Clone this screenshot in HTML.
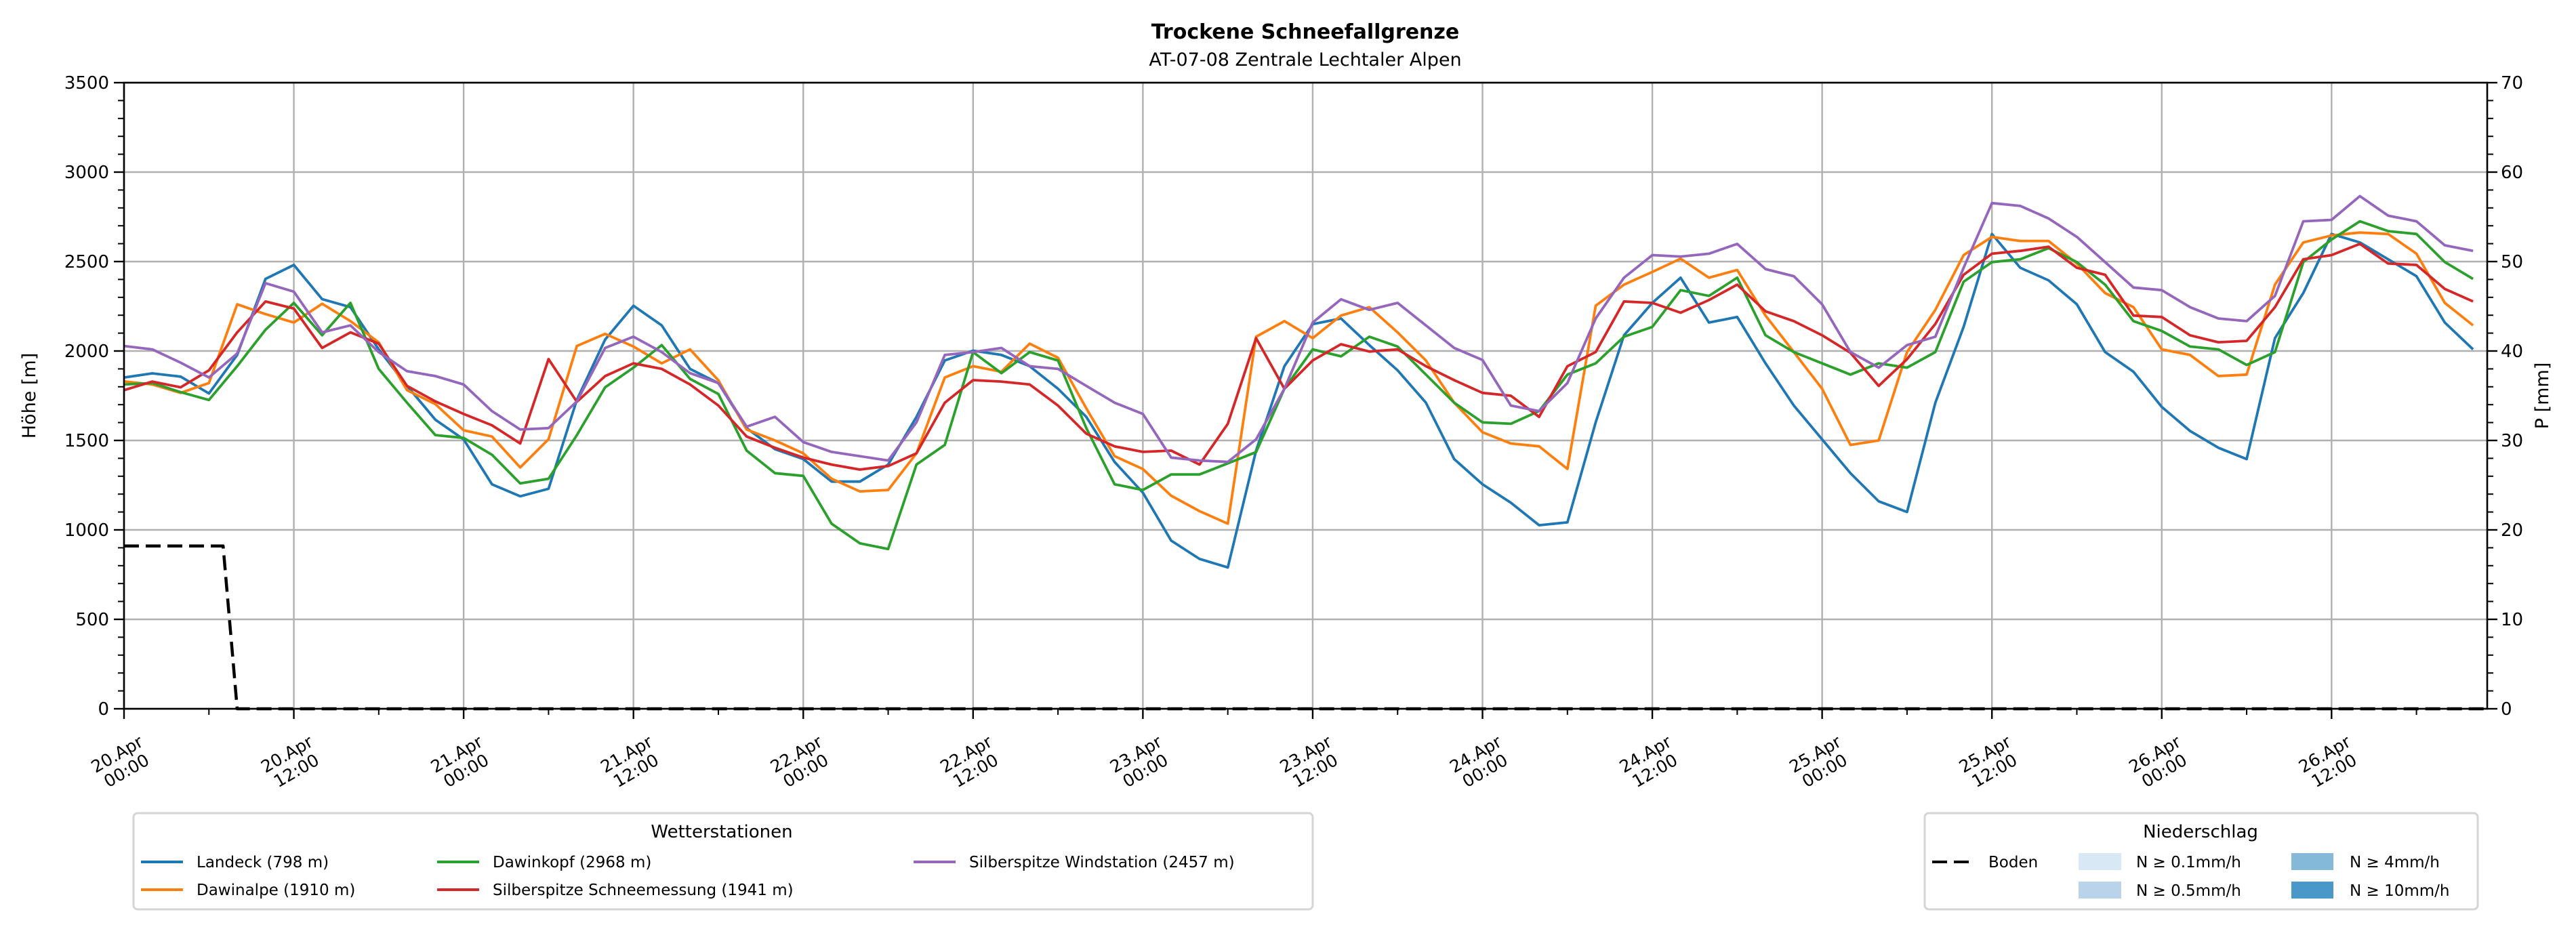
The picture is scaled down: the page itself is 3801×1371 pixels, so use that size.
<!DOCTYPE html>
<html><head><meta charset="utf-8"><style>
html,body{margin:0;padding:0;background:#fff;}
svg{display:block;font-family:"DejaVu Sans","Liberation Sans",sans-serif;}
</style></head><body>
<svg id="chart" xmlns="http://www.w3.org/2000/svg" width="3801" height="1371" viewBox="0 0 3801 1371">
<rect x="0" y="0" width="3801" height="1371" fill="#fff"/>
<text x="1926" y="57" text-anchor="middle" font-size="30" font-weight="bold">Trockene Schneefallgrenze</text>
<text x="1926" y="97" text-anchor="middle" font-size="27">AT-07-08 Zentrale Lechtaler Alpen</text>
<g id="grid"></g>
<g id="series"></g>
<g id="axes"></g>
<text transform="translate(52,584) rotate(-90)" text-anchor="middle" font-size="27">Höhe [m]</text>
<text transform="translate(3760,584) rotate(-90)" text-anchor="middle" font-size="27">P [mm]</text>

<g>
<rect x="197" y="1200" width="1740" height="142" rx="6" fill="#fff" stroke="#d5d5d5" stroke-width="3"/>
<text x="1065" y="1236" text-anchor="middle" font-size="26">Wetterstationen</text>
<g font-size="23">
<line x1="208" y1="1272" x2="270" y2="1272" stroke="#1f77b4" stroke-width="4"/>
<text x="290" y="1280">Landeck (798 m)</text>
<line x1="208" y1="1313" x2="270" y2="1313" stroke="#ff7f0e" stroke-width="4"/>
<text x="290" y="1321">Dawinalpe (1910 m)</text>
<line x1="645" y1="1272" x2="707" y2="1272" stroke="#2ca02c" stroke-width="4"/>
<text x="727" y="1280">Dawinkopf (2968 m)</text>
<line x1="645" y1="1313" x2="707" y2="1313" stroke="#d62728" stroke-width="4"/>
<text x="727" y="1321">Silberspitze Schneemessung (1941 m)</text>
<line x1="1348" y1="1272" x2="1410" y2="1272" stroke="#9467bd" stroke-width="4"/>
<text x="1430" y="1280">Silberspitze Windstation (2457 m)</text>
</g></g>

<g>
<rect x="2840" y="1200" width="816" height="142" rx="6" fill="#fff" stroke="#d5d5d5" stroke-width="3"/>
<text x="3247" y="1236" text-anchor="middle" font-size="26">Niederschlag</text>
<g font-size="23">
<line x1="2851" y1="1272" x2="2907" y2="1272" stroke="#000" stroke-width="4" stroke-dasharray="22,10"/>
<text x="2934" y="1280">Boden</text>
<rect x="3067" y="1259" width="63" height="25" fill="#d9e8f5"/>
<text x="3152" y="1280">N ≥ 0.1mm/h</text>
<rect x="3067" y="1301" width="63" height="25" fill="#b9d4ea"/>
<text x="3152" y="1322">N ≥ 0.5mm/h</text>
<rect x="3381" y="1259" width="62" height="25" fill="#84b9da"/>
<text x="3467" y="1280">N ≥ 4mm/h</text>
<rect x="3381" y="1301" width="62" height="25" fill="#4a98c9"/>
<text x="3467" y="1322">N ≥ 10mm/h</text>
</g></g>
</svg>
<script>
// hours since 20.Apr 00:00 (2-hour steps)
const hours = [];
for (let h = 0; h <= 166; h += 2) hours.push(h);
const landeck = [1852,1875,1857,1763,1978,2403,2481,2290,2245,2009,1805,1616,1506,1255,1188,1230,1727,2064,2253,2143,1900,1820,
1569,1451,1396,1270,1270,1365,1632,1947,2002,1978,1915,1789,1632,1380,1208,940,838,790,1443,1915,2150,
2182,2033,1892,1711,1396,1255,1152,1026,1042,1601,2088,2269,2410,2159,2190,1931,1695,1506,1317,1160,
1100,1711,2135,2654,2465,2395,2261,1994,1884,1687,1553,1459,1396,2072,2324,2654,2607,2513,2418,2159,2009];
const dawinalpe = [1830,1813,1766,1821,2261,2206,2159,2264,2167,2048,1781,1703,1557,1522,1349,1507,2028,2096,2025,1931,2009,1836,
1561,1500,1428,1286,1215,1223,1428,1852,1915,1884,2041,1962,1679,1412,1340,1191,1105,1035,2080,2167,2072,
2198,2245,2104,1947,1711,1546,1483,1467,1341,2253,2371,2442,2516,2410,2453,2198,1994,1789,1475,1500,
1994,2230,2536,2638,2615,2615,2489,2324,2245,2009,1978,1860,1868,2371,2607,2646,2662,2654,2544,2269,2143];
const dawinkopf = [1813,1821,1770,1726,1915,2119,2269,2088,2269,1900,1711,1530,1514,1420,1260,1286,1530,1797,1907,2033,1844,1760,
1443,1317,1302,1035,925,893,1365,1475,1994,1876,1994,1947,1569,1255,1223,1310,1310,1372,1435,1789,2009,
1970,2080,2025,1868,1711,1601,1593,1664,1868,1931,2080,2135,2340,2308,2410,2088,1994,1931,1868,1931,
1907,1994,2387,2497,2513,2575,2497,2371,2167,2112,2025,2009,1922,1994,2497,2623,2725,2670,2654,2497,2403];
const schneemessung = [1781,1829,1797,1892,2104,2277,2237,2017,2104,2041,1805,1718,1648,1585,1483,1955,1716,1860,1931,1900,1813,1695,
1522,1459,1404,1365,1337,1357,1428,1711,1837,1829,1813,1695,1538,1467,1436,1443,1365,1593,2072,1789,1947,
2038,1997,2009,1915,1837,1766,1750,1632,1915,1994,2277,2269,2214,2285,2371,2222,2167,2088,1990,1805,
1954,2151,2426,2544,2560,2583,2465,2426,2198,2190,2088,2049,2057,2245,2513,2536,2599,2489,2481,2347,2277];
const windstation = [2028,2009,1935,1852,1986,2379,2332,2104,2143,1994,1887,1860,1813,1664,1561,1569,1718,2017,2080,1994,1876,1821,
1577,1632,1491,1436,1412,1388,1601,1978,1994,2017,1915,1900,1805,1711,1648,1404,1388,1380,1506,1789,2159,
2289,2230,2269,2143,2017,1950,1695,1664,1821,2182,2410,2536,2528,2544,2599,2458,2418,2261,1994,1907,
2033,2080,2465,2827,2811,2741,2638,2497,2355,2340,2245,2182,2167,2308,2725,2733,2866,2757,2725,2591,2560];
const bodenHours = [0,7,8,167];
const bodenValues = [910,910,0,0];
const yTicks = [0,500,1000,1500,2000,2500,3000,3500];
const y2Ticks = [0,10,20,30,40,50,60,70];
const xTickHours = [0,12,24,36,48,60,72,84,96,108,120,132,144,156];
const xTickLabels = [["20.Apr","00:00"],["20.Apr","12:00"],["21.Apr","00:00"],["21.Apr","12:00"],["22.Apr","00:00"],["22.Apr","12:00"],["23.Apr","00:00"],["23.Apr","12:00"],["24.Apr","00:00"],["24.Apr","12:00"],["25.Apr","00:00"],["25.Apr","12:00"],["26.Apr","00:00"],["26.Apr","12:00"]];

const NS = "http://www.w3.org/2000/svg";
const L = 183, R = 3670, T = 122, B = 1046;
const X0 = 0, X1 = 167;
const xs = h => L + (h - X0) / (X1 - X0) * (R - L);
const ys = v => B - v / 3500 * (B - T);
const ys2 = v => B - v / 70 * (B - T);
function mk(tag, attrs, parent) {
  const e = document.createElementNS(NS, tag);
  for (const k in attrs) e.setAttribute(k, attrs[k]);
  parent.appendChild(e);
  return e;
}
const grid = document.getElementById('grid');
const axes = document.getElementById('axes');
const series = document.getElementById('series');

yTicks.forEach(v => {
  const g = mk('line', {x1: L, x2: R, y1: ys(v), y2: ys(v), stroke: '#b0b0b0', 'stroke-width': 2.4}, grid);
  
  
  const t = mk('line', {x1: L - 15, x2: L, y1: ys(v), y2: ys(v), stroke: '#000', 'stroke-width': 2.4}, axes);
  
  
  const lb = mk('text', {x: L - 22, y: ys(v) + 9, 'text-anchor': 'end', 'font-size': 26}, axes);
  lb.textContent = v;
  
  
});
for (let v = 0; v <= 3500; v += 100) {
  if (v % 500 === 0) continue;
  const t = mk('line', {x1: L - 9, x2: L, y1: ys(v), y2: ys(v), stroke: '#000', 'stroke-width': 2}, axes);
  
  
}
y2Ticks.forEach(v => {
  const t = mk('line', {x1: R, x2: R + 15, y1: ys2(v), y2: ys2(v), stroke: '#000', 'stroke-width': 2.4}, axes);
  
  
  const lb = mk('text', {x: R + 20, y: ys2(v) + 9, 'text-anchor': 'start', 'font-size': 26}, axes);
  lb.textContent = v;
  
  
});
for (let v = 0; v <= 70; v += 2) {
  if (v % 10 === 0) continue;
  const t = mk('line', {x1: R, x2: R + 9, y1: ys2(v), y2: ys2(v), stroke: '#000', 'stroke-width': 2}, axes);
  
  
}
xTickHours.forEach((h, i) => {
  const g = mk('line', {x1: xs(h), x2: xs(h), y1: T, y2: B, stroke: '#b0b0b0', 'stroke-width': 2.4}, grid);
  
  
  const t = mk('line', {x1: xs(h), x2: xs(h), y1: B, y2: B + 15, stroke: '#000', 'stroke-width': 2.4}, axes);
  
  
  const lb = mk('text', {transform: 'translate(' + (xs(h) - 4) + ',1124) rotate(-30)', 'text-anchor': 'middle', 'font-size': 25}, axes);
  
  
  const a = mk('tspan', {x: 0, y: -4}, lb); a.textContent = xTickLabels[i][0];
  const b = mk('tspan', {x: 0, y: 24}, lb); b.textContent = xTickLabels[i][1];
});
for (let h = 6; h < X1; h += 12) {
  const t = mk('line', {x1: xs(h), x2: xs(h), y1: B, y2: B + 9, stroke: '#000', 'stroke-width': 2}, axes);
  
  
}
const frame = mk('rect', {x: L, y: T, width: R - L, height: B - T, fill: 'none', stroke: '#000', 'stroke-width': 2.6}, axes);



function drawLine(xsArr, vals, color, name, dash) {
  const d = vals.map((v, i) => (i ? 'L' : 'M') + xs(xsArr[i]).toFixed(1) + ',' + ys(v).toFixed(1)).join('');
  const p = mk('path', {d: d, fill: 'none', stroke: color, 'stroke-width': dash ? 4.5 : 3.8, 'stroke-linejoin': 'round'}, series);
  if (dash) p.setAttribute('stroke-dasharray', '22,10');
  
  
}
drawLine(hours, landeck, '#1f77b4', 'line-landeck');
drawLine(hours, dawinalpe, '#ff7f0e', 'line-dawinalpe');
drawLine(hours, dawinkopf, '#2ca02c', 'line-dawinkopf');
drawLine(hours, schneemessung, '#d62728', 'line-silberspitze-schneemessung');
drawLine(hours, windstation, '#9467bd', 'line-silberspitze-windstation');
drawLine(bodenHours, bodenValues, '#000', 'line-boden', true);
</script>
</body></html>
